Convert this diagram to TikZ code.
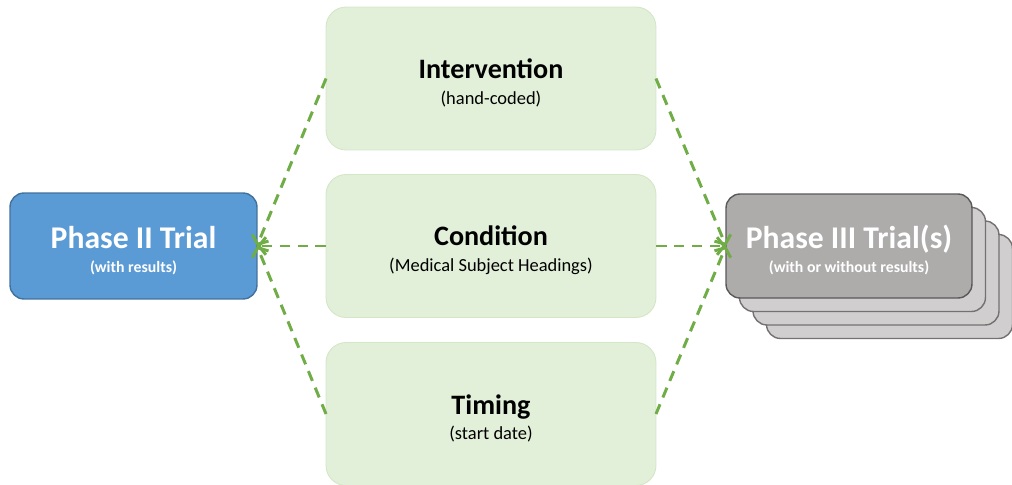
\documentclass[tikz,border=0pt]{standalone}
\usepackage{fontspec}
\setmainfont{Carlito}
\usepackage{xcolor}
\usetikzlibrary{arrows.meta}

\definecolor{trialblue}{HTML}{5B9BD5}
\definecolor{trialblueline}{HTML}{41719C}
\definecolor{factorgreen}{HTML}{E2F0D9}
\definecolor{factorline}{HTML}{D3E6C6}
\definecolor{linkgreen}{HTML}{70AD47}
\definecolor{stackgray}{HTML}{D0CECE}
\definecolor{stackline}{HTML}{767171}
\definecolor{frontgray}{HTML}{AEABAB}
\definecolor{frontline}{HTML}{595959}

\tikzset{
  trialbox/.style={rounded corners=0.28cm, inner sep=0pt, outer sep=0pt,
    line width=0.8pt, align=center, text=white,
    font=\fontsize{9}{13.6}\selectfont\bfseries},
  phasetwo/.style={trialbox, fill=trialblue, draw=trialblueline,
    minimum width=4.94cm, minimum height=2.12cm},
  phasethree/.style={trialbox, fill=frontgray, draw=frontline,
    minimum width=4.92cm, minimum height=2.08cm},
  stackbox/.style={phasethree, fill=stackgray, draw=stackline},
  factor/.style={rounded corners=0.4cm, inner sep=0pt, outer sep=0pt,
    fill=factorgreen, draw=factorline, line width=0.5pt,
    minimum width=6.6cm, minimum height=2.86cm, align=center,
    font=\fontsize{10.5}{14.5}\selectfont},
  link/.style={linkgreen, line width=1.7pt, dash pattern=on 6pt off 4.2pt,
    -{Straight Barb[length=4pt,width=10pt]}}
}
\newcommand\bigtitle[1]{{\fontsize{18}{21}\selectfont\bfseries\rule{0pt}{18pt}#1}}
\newcommand\factortitle[1]{{\fontsize{16}{19}\selectfont\bfseries\rule{0pt}{16pt}#1}}

\begin{document}
\begin{tikzpicture}[x=0.02cm,y=-0.02cm]
  \useasboundingbox (0,0) rectangle (1012,484);
  \node[phasetwo] (p2) at (133.5,246) {\bigtitle{Phase II Trial}\\(with results)};
  % stacked Phase III trials, back to front
  \node[stackbox] (s3) at (889.5,286.5) {};
  \node[stackbox] (s2) at (876,273) {};
  \node[stackbox] (s1) at (862.5,259.5) {};
  \node[phasethree] (p3) at (849,246) {\bigtitle{Phase III Trial(s)}\\(with or without results)};
  % matching factors
  \node[factor] (int) at (491,78.5) {\factortitle{Intervention}\\(hand-coded)};
  \node[factor] (cond) at (491,246) {\factortitle{Condition}\\(Medical Subject Headings)};
  \node[factor] (tim) at (491,414) {\factortitle{Timing}\\(start date)};
  \draw[link] (int.west) -- (p2.east);
  \draw[link] (cond.west) -- (p2.east);
  \draw[link] (tim.west) -- (p2.east);
  \draw[link] (int.east) -- (p3.west);
  \draw[link] (cond.east) -- (p3.west);
  \draw[link] (tim.east) -- (p3.west);
\end{tikzpicture}
\end{document}
